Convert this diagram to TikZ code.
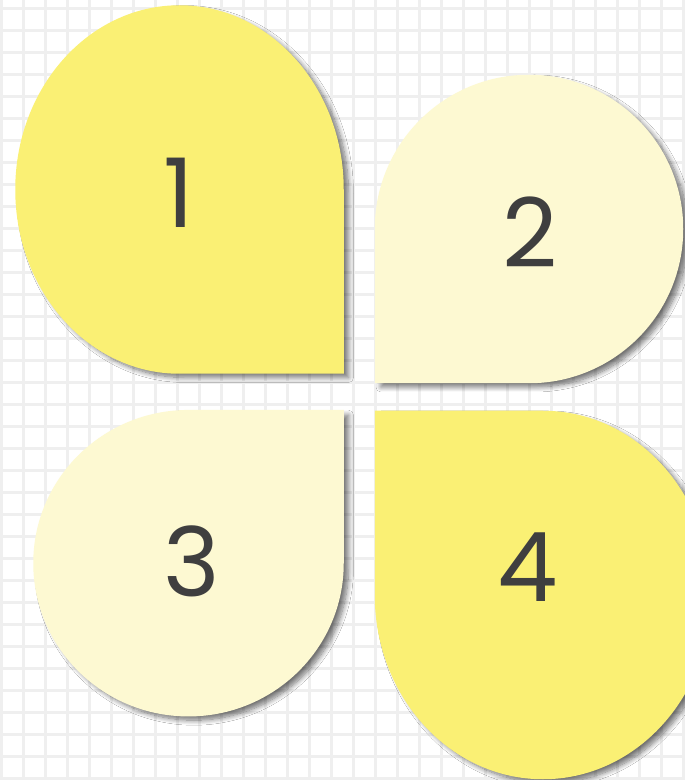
\documentclass[tikz,border=0pt]{standalone}
\usepackage{fontspec}
\setmainfont{Poppins}
\usetikzlibrary{shadows.blur}
\definecolor{gridc}{RGB}{239,239,239}
\definecolor{petalA}{RGB}{250,240,116}
\definecolor{petalB}{RGB}{253,249,210}
\definecolor{numc}{RGB}{63,63,63}
\begin{document}
\begin{tikzpicture}[x=1pt,y=1pt,
  petal/.style={line width=1.5pt, blur shadow={shadow xshift=5.5pt, shadow yshift=-4.5pt, shadow blur radius=5pt, shadow blur steps=10, shadow opacity=55}},
  num/.style={inner sep=0pt, text=numc, font=\fontsize{96}{100}\selectfont}]
\useasboundingbox (0,0) rectangle (685,780);
\fill[white] (0,0) rectangle (685,780);
\begin{scope}
\clip (0,0) rectangle (685,780);
\foreach \i in {0,...,31} {
  \draw[gridc, line width=2.5pt] ({1.5+22*\i},0) -- ({1.5+22*\i},780);
}
\foreach \j in {0,...,35} {
  \draw[gridc, line width=2.5pt] (0,{771.5-22*\j}) -- (685,{771.5-22*\j});
}
% petal 1
\filldraw[petalA, petal] (343,407) -- (179.5,407)
  arc[start angle=270, end angle=0, x radius=163.5, y radius=183.5] -- cycle;
% petal 2
\filldraw[petalB, petal] (375.5,397.5) -- (375.5,551)
  arc[start angle=180, end angle=-90, radius=153.5] -- cycle;
% petal 3
\filldraw[petalB, petal] (343,369.3) -- (188.5,369.3)
  arc[start angle=90, end angle=360, x radius=154.5, y radius=152.5] -- cycle;
% petal 4
\filldraw[petalA, petal] (375.5,368.5) -- (375.5,185)
  arc[start angle=180, end angle=450, x radius=167.5, y radius=183.5] -- cycle;
\end{scope}
\node[num] (n1) at (179,587) {1};
\node[num] (n2) at (530,548) {2};
\node[num] (n3) at (191.5,219) {3};
\node[num] (n4) at (527.5,213) {4};
\end{tikzpicture}
\end{document}
